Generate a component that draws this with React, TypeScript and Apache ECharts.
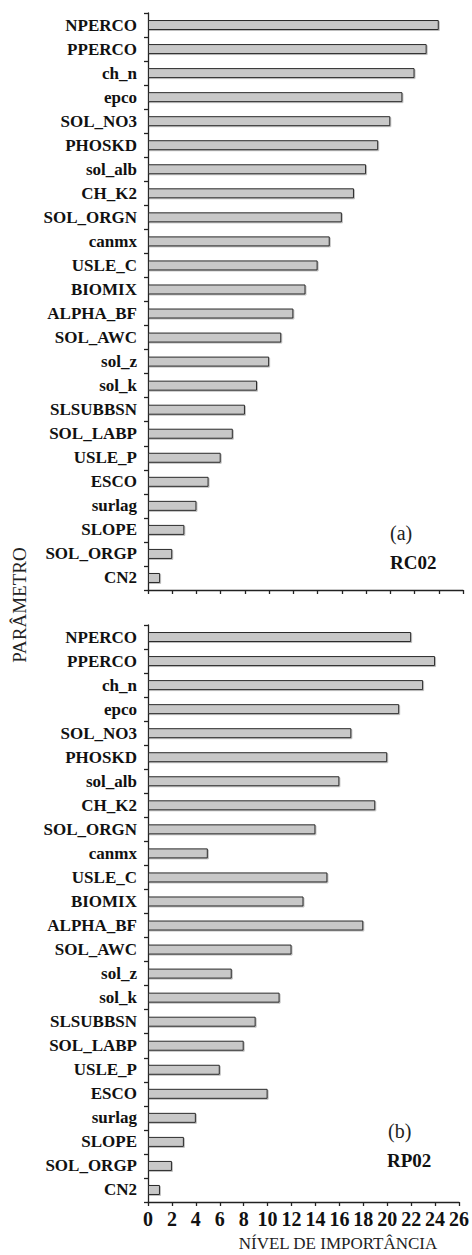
import React, { useEffect, useRef } from "react";
import * as echarts from "echarts";

const categories = [
  "NPERCO", "PPERCO", "ch_n", "epco", "SOL_NO3", "PHOSKD", "sol_alb", "CH_K2",
  "SOL_ORGN", "canmx", "USLE_C", "BIOMIX", "ALPHA_BF", "SOL_AWC", "sol_z", "sol_k",
  "SLSUBBSN", "SOL_LABP", "USLE_P", "ESCO", "surlag", "SLOPE", "SOL_ORGP", "CN2",
];
const rc02 = [24, 23, 22, 21, 20, 19, 18, 17, 16, 15, 14, 13, 12, 11, 10, 9, 8, 7, 6, 5, 4, 3, 2, 1];
const rp02 = [22, 24, 23, 21, 17, 20, 16, 19, 14, 5, 15, 13, 18, 12, 7, 11, 9, 8, 6, 10, 4, 3, 2, 1];
const xMin = 0;
const xMax = 26;
const xStep = 2;

const FONT = "'Liberation Serif', 'Times New Roman', serif";
const AXIS_COLOR = "#222";
const TEXT_COLOR = "#111";

export default function App() {
  const ref = useRef<HTMLDivElement>(null);

  useEffect(() => {
    if (!ref.current) return;
    const chart = echarts.init(ref.current, null, { renderer: "svg" });

    const catAxis = (gridIndex: number) => ({
      type: "category" as const,
      gridIndex,
      data: categories,
      inverse: true,
      axisLine: { show: true, lineStyle: { color: AXIS_COLOR, width: 1.3 } },
      axisTick: { show: true, length: 4, lineStyle: { color: AXIS_COLOR, width: 1.3 } },
      axisLabel: {
        margin: 11,
        fontFamily: FONT,
        fontWeight: "bold" as const,
        fontSize: 17,
        color: TEXT_COLOR,
      },
    });

    const valAxis = (gridIndex: number, showLabels: boolean) => ({
      type: "value" as const,
      gridIndex,
      min: xMin,
      max: xMax,
      interval: xStep,
      splitLine: { show: false },
      axisLine: { show: true, lineStyle: { color: AXIS_COLOR, width: 1.3 } },
      axisTick: { show: true, length: 4, lineStyle: { color: AXIS_COLOR, width: 1.3 } },
      axisLabel: {
        show: showLabels,
        margin: 7,
        fontFamily: FONT,
        fontWeight: "bold" as const,
        fontSize: 20,
        color: TEXT_COLOR,
        hideOverlap: false,
      },
    });

    const barSeries = (idx: number, data: number[]) => ({
      type: "bar" as const,
      xAxisIndex: idx,
      yAxisIndex: idx,
      data,
      barWidth: 10,
      itemStyle: {
        color: "#c8c8c8",
        borderColor: "#2a2a2a",
        borderWidth: 1,
        shadowColor: "rgba(0,0,0,0.25)",
        shadowOffsetX: 1,
        shadowOffsetY: 1,
        shadowBlur: 0,
      },
      silent: true,
    });

    chart.setOption({
      animation: false,
      backgroundColor: "#ffffff",
      grid: [
        { left: 148, top: 13, width: 315, height: 577 },
        { left: 148, top: 625, width: 311, height: 577 },
      ],
      xAxis: [valAxis(0, false), valAxis(1, true)],
      yAxis: [catAxis(0), catAxis(1)],
      series: [barSeries(0, rc02), barSeries(1, rp02)],
      graphic: [
        {
          type: "text",
          x: 19,
          y: 605,
          rotation: Math.PI / 2,
          style: {
            text: "PARÂMETRO",
            fontFamily: FONT,
            fontSize: 19,
            fill: "#222",
            align: "center",
            verticalAlign: "middle",
          },
        },
        {
          type: "text",
          x: 338,
          y: 1243,
          style: {
            text: "NÍVEL DE IMPORTÂNCIA",
            fontFamily: FONT,
            fontSize: 17,
            fill: "#222",
            align: "center",
            verticalAlign: "middle",
          },
        },
        {
          type: "text",
          x: 390,
          y: 533,
          style: { text: "(a)", fontFamily: FONT, fontSize: 20, fill: "#222", align: "left", verticalAlign: "middle" },
        },
        {
          type: "text",
          x: 390,
          y: 562,
          style: { text: "RC02", fontFamily: FONT, fontSize: 19, fontWeight: "bold", fill: TEXT_COLOR, align: "left", verticalAlign: "middle" },
        },
        {
          type: "text",
          x: 388,
          y: 1131,
          style: { text: "(b)", fontFamily: FONT, fontSize: 20, fill: "#222", align: "left", verticalAlign: "middle" },
        },
        {
          type: "text",
          x: 387,
          y: 1160,
          style: { text: "RP02", fontFamily: FONT, fontSize: 19, fontWeight: "bold", fill: TEXT_COLOR, align: "left", verticalAlign: "middle" },
        },
      ],
    });

    return () => chart.dispose();
  }, []);

  return (
    <div
      ref={ref}
      style={{ position: "absolute", left: 0, top: 0, width: 472, height: 1255 }}
    />
  );
}
